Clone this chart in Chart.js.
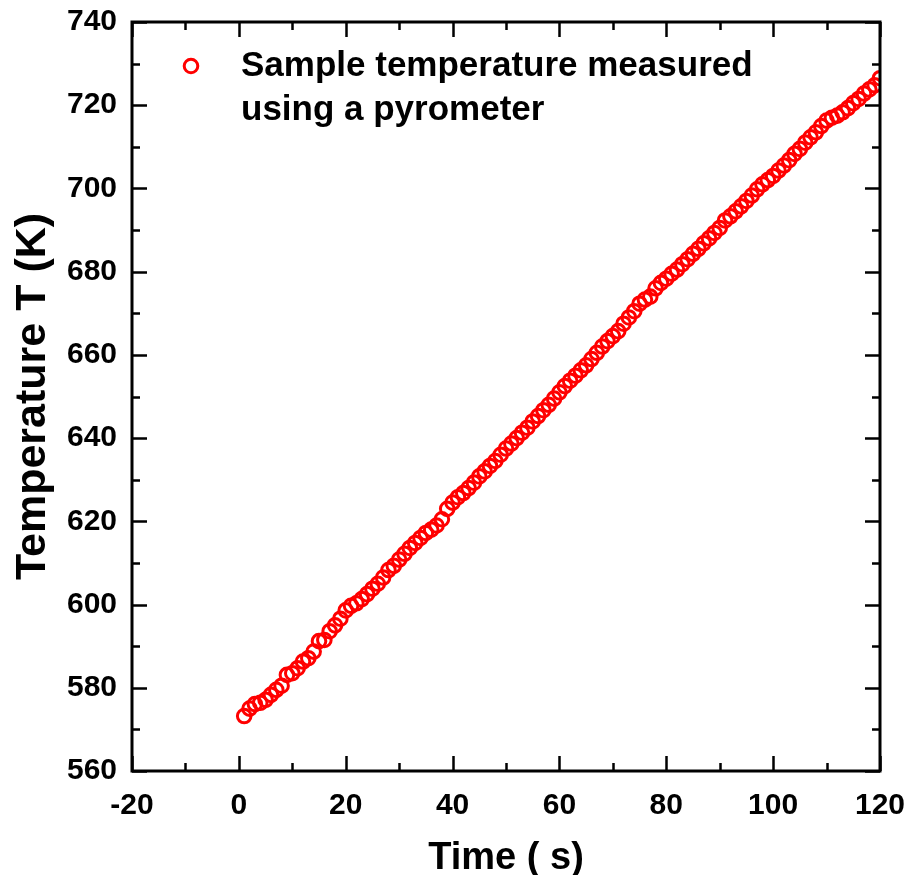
<!DOCTYPE html>
<html>
<head>
<meta charset="utf-8">
<script src="https://cdn.jsdelivr.net/npm/chart.js@4"></script>
<style>
	html, body { margin: 0; padding: 0; background: #fff; }
	#wrap { width: 906px; height: 875px; }
</style>
</head>
<body>
<div id="wrap"><canvas id="chart0" width="906" height="875"></canvas></div>
<script>
// measured data (time in s, temperature in K)
let times = [];
for (let i = 1; i <= 120; i++) times.push(i);

let temps = [
	573.2, 575.0, 576.1, 576.4, 577.1, 578.3, 579.5, 580.5, 583.1, 583.5,
	584.7, 586.3, 587.1, 588.7, 591.2, 591.5, 593.6, 595.0, 596.6, 598.6,
	599.7, 600.3, 601.3, 602.5, 603.8, 605.0, 606.5, 608.3, 609.3, 610.8,
	612.2, 613.6, 614.8, 616.0, 617.2, 618.0, 619.0, 620.5, 623.0, 624.5,
	625.8, 626.8, 628.0, 629.3, 630.8, 632.0, 633.3, 634.5, 636.0, 637.5,
	638.7, 640.0, 641.3, 642.5, 644.0, 645.3, 646.7, 648.0, 649.5, 651.0,
	652.5, 653.8, 655.0, 656.3, 657.5, 659.0, 660.5, 662.0, 663.3, 664.5,
	665.7, 667.5, 669.0, 670.5, 672.3, 673.3, 674.0, 676.0, 677.3, 678.3,
	679.5, 680.5, 681.8, 683.0, 684.3, 685.5, 686.8, 688.0, 689.3, 690.5,
	692.3, 693.3, 694.5, 695.7, 697.0, 698.3, 699.8, 701.0, 702.0, 703.0,
	704.3, 705.5, 706.8, 708.3, 709.5, 711.0, 712.3, 713.5, 715.0, 716.3,
	717.0, 717.5, 718.3, 719.3, 720.5, 721.5, 722.8, 723.8, 724.8, 726.5
];

let xTicks = [-20, 0, 20, 40, 60, 80, 100, 120];
let yTicks = [560, 580, 600, 620, 640, 660, 680, 700, 720, 740];
let legendLines = ['Sample temperature measured', 'using a pyrometer'];

const FONT = "'Liberation Sans', Arial, Helvetica, sans-serif";

/**
 * 枠線と内向きの目盛り、凡例を描画する
 */
const framePlugin = {
	id: 'frame',
	afterDraw(chart) {
		let ctx = chart.ctx;
		let a = chart.chartArea;
		let xs = chart.scales.x;
		let ys = chart.scales.y;
		ctx.save();
		ctx.strokeStyle = '#000';
		ctx.lineWidth = 2.5;
		ctx.lineCap = 'butt';

		// x ticks (bottom and top)
		for (let v = xTicks[0]; v <= xTicks[xTicks.length - 1]; v += 10) {
			let px = Math.round(xs.getPixelForValue(v)) + 0.5;
			let len = (v % 20 === 0) ? 15 : 8;
			ctx.beginPath();
			ctx.moveTo(px, a.bottom);
			ctx.lineTo(px, a.bottom - len);
			ctx.moveTo(px, a.top);
			ctx.lineTo(px, a.top + len);
			ctx.stroke();
		}
		// y ticks (left and right)
		for (let v = yTicks[0]; v <= yTicks[yTicks.length - 1]; v += 10) {
			let py = Math.round(ys.getPixelForValue(v)) + 0.5;
			let len = (v % 20 === 0) ? 15 : 8;
			ctx.beginPath();
			ctx.moveTo(a.left, py);
			ctx.lineTo(a.left + len, py);
			ctx.moveTo(a.right, py);
			ctx.lineTo(a.right - len, py);
			ctx.stroke();
		}

		ctx.lineWidth = 3;
		ctx.strokeRect(a.left, a.top, a.right - a.left, a.bottom - a.top);

		// legend
		let ds = chart.data.datasets[0];
		ctx.beginPath();
		ctx.arc(191, 66, ds.pointRadius, 0, Math.PI * 2);
		ctx.strokeStyle = ds.borderColor;
		ctx.lineWidth = ds.borderWidth;
		ctx.stroke();
		ctx.fillStyle = '#000';
		ctx.font = 'bold 35px ' + FONT;
		ctx.textBaseline = 'middle';
		ctx.textAlign = 'left';
		ctx.fillText(legendLines[0], 241, 66);
		ctx.fillText(legendLines[1], 241, 110);
		ctx.restore();
	}
};

function drawChart() {
	let points = times.map((t, i) => ({ x: t, y: temps[i] }));
	let config = {
		type: 'scatter',
		data: {
			datasets: [{
				data: points,
				pointStyle: 'circle',
				pointRadius: 6.8,
				pointHoverRadius: 6.8,
				borderColor: '#ff0000',
				backgroundColor: 'rgba(0,0,0,0)',
				borderWidth: 3,
				clip: 0
			}]
		},
		options: {
			responsive: false,
			animation: false,
			events: [],
			layout: {
				padding: { top: 22, right: 26, left: 0, bottom: 0 }
			},
			plugins: {
				legend: { display: false },
				tooltip: { enabled: false }
			},
			scales: {
				x: {
					type: 'linear',
					min: -20,
					max: 120,
					afterBuildTicks: s => { s.ticks = xTicks.map(v => ({ value: v })); },
					afterFit: s => {
						s.height = 104;
						s.paddingLeft = 0;
						s.paddingRight = 0;
					},
					grid: { display: false },
					border: { display: false },
					ticks: {
						color: '#000',
						padding: 9,
						font: { family: FONT, size: 30, weight: 'bold' },
						maxRotation: 0
					},
					title: {
						display: true,
						text: 'Time ( s)',
						color: '#000',
						padding: { top: 0, bottom: 0 },
						font: { family: FONT, size: 38, weight: 'bold', lineHeight: 0.85 }
					}
				},
				y: {
					type: 'linear',
					min: 560,
					max: 740,
					afterBuildTicks: s => { s.ticks = yTicks.map(v => ({ value: v })); },
					afterFit: s => {
						s.width = 132;
						s.paddingTop = 0;
						s.paddingBottom = 0;
					},
					grid: { display: false },
					border: { display: false },
					ticks: {
						color: '#000',
						padding: 7,
						font: { family: FONT, size: 30, weight: 'bold' }
					},
					title: {
						display: true,
						text: 'Temperature T (K)',
						color: '#000',
						padding: { top: 12, bottom: 0 },
						font: { family: FONT, size: 43, weight: 'bold', lineHeight: 1.0 }
					}
				}
			}
		},
		plugins: [framePlugin]
	};
	let grapharea = document.getElementById('chart0').getContext('2d');
	window.myChart = new Chart(grapharea, config);
}

drawChart();
</script>
</body>
</html>
